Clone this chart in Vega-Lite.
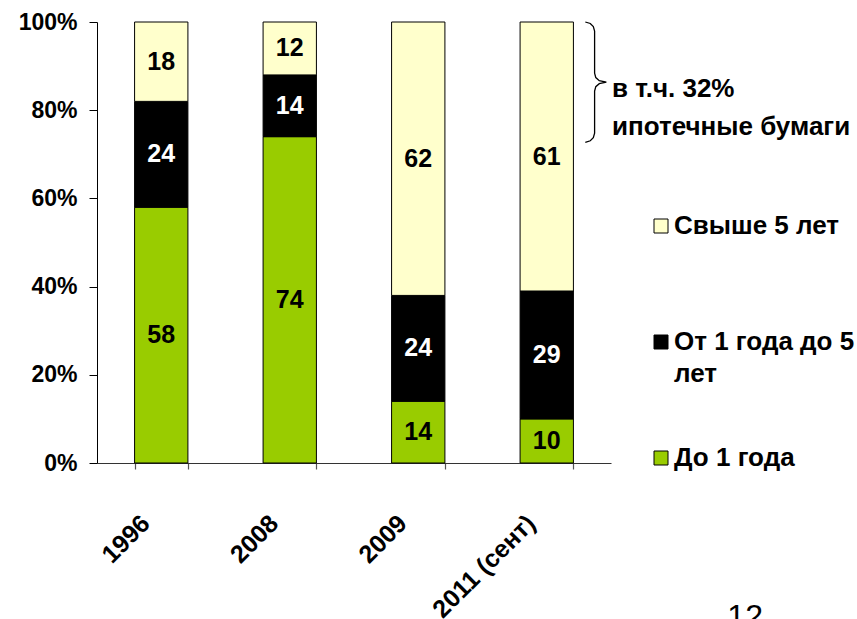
{
  "$schema": "https://vega.github.io/schema/vega-lite/v6.json",
  "width": 514,
  "height": 441,
  "autosize": {"type": "none"},
  "padding": {"left": 97, "top": 22, "right": 246, "bottom": 156},
  "background": "white",
  "config": {
    "font": "Liberation Sans",
    "view": {"stroke": null},
    "style": {"guide-label": {"lineHeight": 32}}
  },
  "datasets": {
    "bars": [
      {"year": "1996", "series": "До 1 года", "value": 58, "rank": 1},
      {"year": "1996", "series": "От 1 года до 5 лет", "value": 24, "rank": 2},
      {"year": "1996", "series": "Свыше 5 лет", "value": 18, "rank": 3},
      {"year": "2008", "series": "До 1 года", "value": 74, "rank": 1},
      {"year": "2008", "series": "От 1 года до 5 лет", "value": 14, "rank": 2},
      {"year": "2008", "series": "Свыше 5 лет", "value": 12, "rank": 3},
      {"year": "2009", "series": "До 1 года", "value": 14, "rank": 1},
      {"year": "2009", "series": "От 1 года до 5 лет", "value": 24, "rank": 2},
      {"year": "2009", "series": "Свыше 5 лет", "value": 62, "rank": 3},
      {"year": "2011 (сент)", "series": "До 1 года", "value": 10, "rank": 1},
      {"year": "2011 (сент)", "series": "От 1 года до 5 лет", "value": 29, "rank": 2},
      {"year": "2011 (сент)", "series": "Свыше 5 лет", "value": 61, "rank": 3}
    ],
    "brace": [
      {"i": 1, "bx": 0.9500, "value": 100.0},
      {"i": 2, "bx": 0.9597, "value": 99.66},
      {"i": 3, "bx": 0.9656, "value": 98.98},
      {"i": 4, "bx": 0.9681, "value": 97.95},
      {"i": 5, "bx": 0.9681, "value": 88.41},
      {"i": 6, "bx": 0.9704, "value": 87.39},
      {"i": 7, "bx": 0.9772, "value": 86.70},
      {"i": 8, "bx": 0.9909, "value": 86.36},
      {"i": 9, "bx": 0.9772, "value": 86.02},
      {"i": 10, "bx": 0.9704, "value": 85.34},
      {"i": 11, "bx": 0.9681, "value": 84.32},
      {"i": 12, "bx": 0.9681, "value": 74.77},
      {"i": 13, "bx": 0.9656, "value": 73.75},
      {"i": 14, "bx": 0.9597, "value": 73.07},
      {"i": 15, "bx": 0.9500, "value": 72.73}
    ],
    "notes": [
      {"label": "в т.ч. 32%", "bx": 1.0, "value": 84.77},
      {"label": "ипотечные бумаги", "bx": 1.0, "value": 76.14}
    ],
    "page": [
      {"label": "12", "bx": 1.261, "value": -37.3}
    ]
  },
  "layer": [
    {
      "mark": {"type": "rule", "color": "#999999", "strokeWidth": 1},
      "encoding": {
        "x": {"datum": 0, "type": "quantitative", "scale": {"domain": [0, 1], "nice": false, "zero": false}, "axis": null},
        "x2": {"datum": 1},
        "y": {"datum": 100, "type": "quantitative"}
      }
    },
    {
      "mark": {"type": "rule", "color": "#999999", "strokeWidth": 1},
      "encoding": {
        "x": {"datum": 1, "type": "quantitative", "scale": {"domain": [0, 1], "nice": false, "zero": false}, "axis": null},
        "y": {"datum": 0, "type": "quantitative"},
        "y2": {"datum": 100}
      }
    },
    {
      "data": {"name": "bars"},
      "mark": {"type": "bar", "stroke": "black", "strokeWidth": 1},
      "encoding": {
        "x": {
          "field": "year", "type": "nominal", "sort": null,
          "scale": {"type": "band", "paddingInner": 0.585, "paddingOuter": 0.2925},
          "axis": {
            "title": null, "tickBand": "extent", "labelAngle": -45,
            "labelAlign": "right", "labelBaseline": "middle",
            "labelOffset": -16, "labelPadding": 50, "tickSize": 6, "tickWidth": 1.2,
            "domain": true, "ticks": true,
            "domainColor": "#333333", "tickColor": "#555555",
            "labelFont": "Liberation Sans", "labelFontWeight": "bold",
            "labelFontSize": 25, "labelColor": "black"
          }
        },
        "y": {
          "field": "value", "type": "quantitative", "stack": "zero",
          "scale": {"domain": [0, 100], "nice": false},
          "axis": {
            "title": null, "values": [0, 20, 40, 60, 80, 100],
            "labelExpr": "datum.value + '%'", "grid": false,
            "domain": true, "ticks": true,
            "domainColor": "black", "tickColor": "black", "tickSize": 8,
            "labelPadding": 12, "labelFont": "Liberation Sans",
            "labelFontWeight": "bold", "labelFontSize": 23, "labelColor": "black"
          }
        },
        "color": {
          "field": "series", "type": "nominal",
          "scale": {
            "domain": ["Свыше 5 лет", "От 1 года до 5 лет", "До 1 года"],
            "range": ["#FFFFCC", "#000000", "#99CC00"]
          },
          "legend": {
            "orient": "none", "legendX": 551, "legendY": 191,
            "title": null, "padding": 0,
            "symbolType": "square", "symbolSize": 196,
            "symbolStrokeColor": "black", "symbolStrokeWidth": 1,
            "labelFont": "Liberation Sans", "labelFontSize": 26,
            "labelFontWeight": "bold", "labelColor": "black",
            "labelOffset": 0, "labelLimit": 400, "rowPadding": 58,
            "labelExpr": "datum.label == 'От 1 года до 5 лет' ? ['От 1 года до 5', 'лет'] : [datum.label, ' ']"
          }
        },
        "order": {"field": "rank", "type": "quantitative"}
      }
    },
    {
      "data": {"name": "bars"},
      "mark": {"type": "text", "font": "Liberation Sans", "fontWeight": "bold", "fontSize": 25, "baseline": "middle"},
      "encoding": {
        "x": {"field": "year", "type": "nominal", "sort": null, "scale": {"type": "band", "paddingInner": 0.585, "paddingOuter": 0.2925}, "axis": null},
        "y": {"field": "value", "type": "quantitative", "stack": "zero", "bandPosition": 0.5},
        "text": {"field": "value", "type": "quantitative"},
        "color": {"condition": {"test": "datum.series === 'От 1 года до 5 лет'", "value": "white"}, "value": "black"},
        "order": {"field": "rank", "type": "quantitative"}
      }
    },
    {
      "data": {"name": "brace"},
      "mark": {"type": "line", "color": "black", "strokeWidth": 1.3, "clip": false},
      "encoding": {
        "x": {"field": "bx", "type": "quantitative", "scale": {"domain": [0, 1], "nice": false, "zero": false}, "axis": null},
        "y": {"field": "value", "type": "quantitative"},
        "order": {"field": "i", "type": "quantitative"}
      }
    },
    {
      "data": {"name": "notes"},
      "mark": {"type": "text", "font": "Liberation Sans", "fontWeight": "bold", "fontSize": 26, "align": "left", "baseline": "middle", "dx": 1, "color": "black", "clip": false},
      "encoding": {
        "x": {"field": "bx", "type": "quantitative", "scale": {"domain": [0, 1], "nice": false, "zero": false}, "axis": null},
        "y": {"field": "value", "type": "quantitative"},
        "text": {"field": "label"}
      }
    },
    {
      "data": {"name": "page"},
      "mark": {"type": "text", "font": "Liberation Sans", "fontSize": 32, "align": "center", "baseline": "alphabetic", "color": "black", "clip": false},
      "encoding": {
        "x": {"field": "bx", "type": "quantitative", "scale": {"domain": [0, 1], "nice": false, "zero": false}, "axis": null},
        "y": {"field": "value", "type": "quantitative"},
        "text": {"field": "label"}
      }
    }
  ],
  "resolve": {"scale": {"x": "independent"}, "axis": {"x": "independent"}}
}
